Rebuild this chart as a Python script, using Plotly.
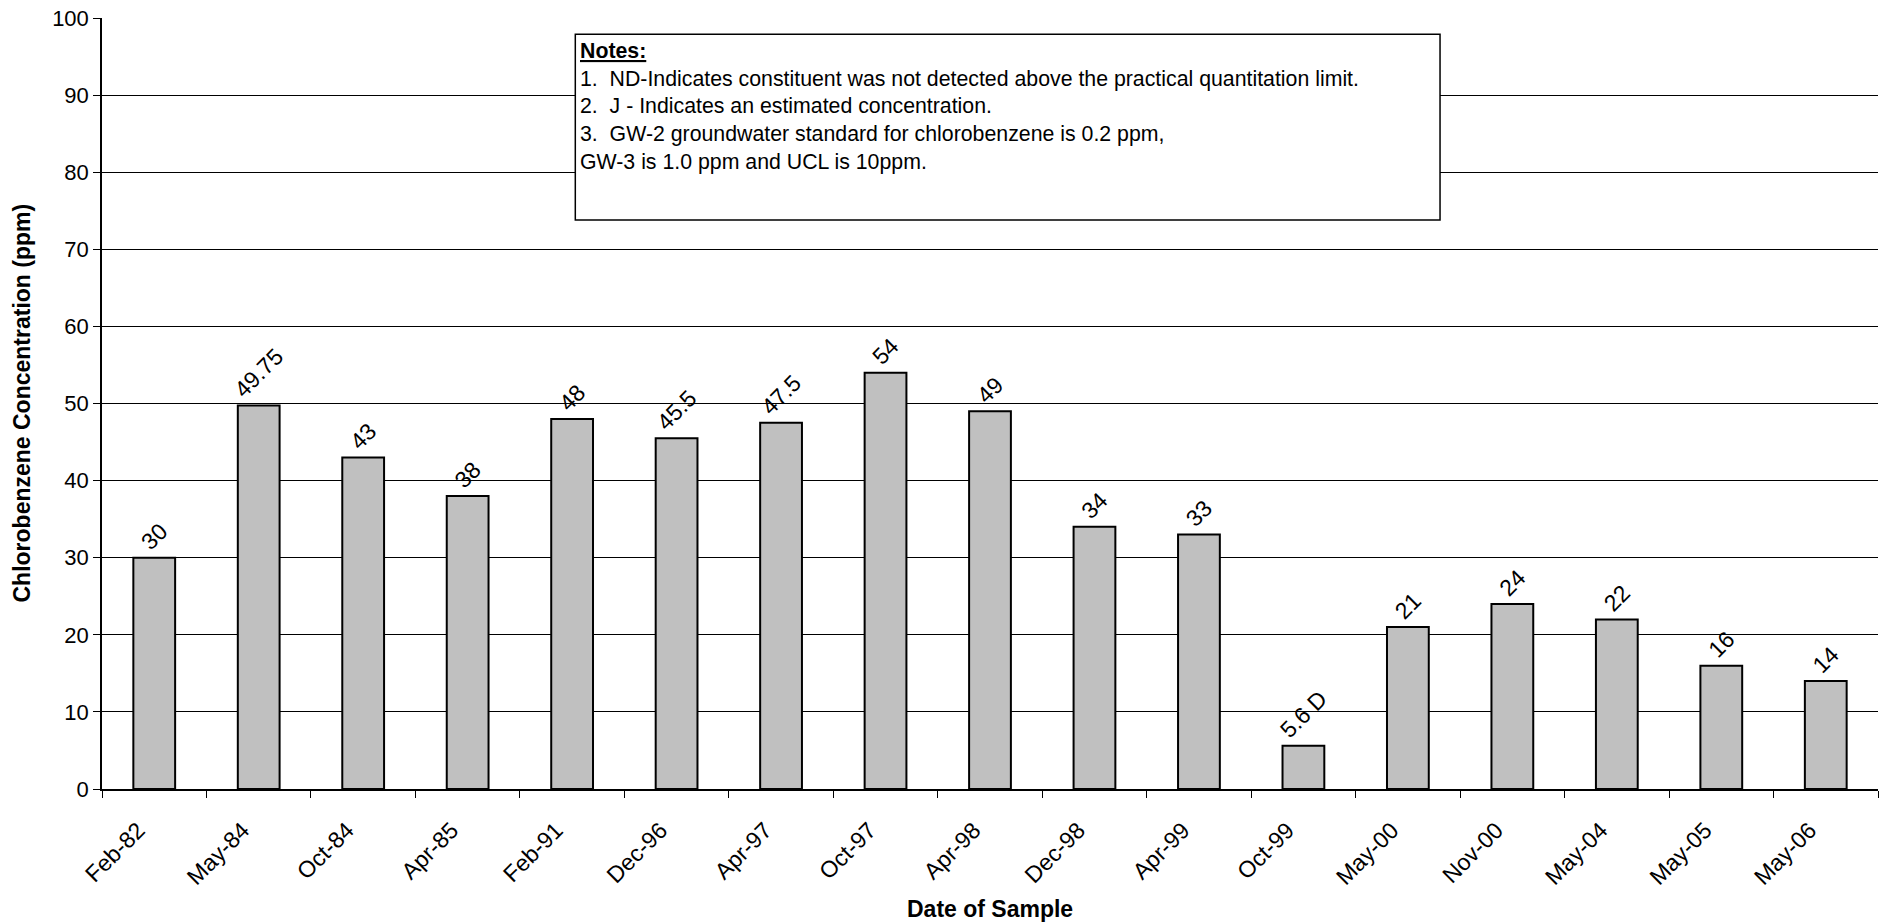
import plotly.graph_objects as go

categories = ["Feb-82", "May-84", "Oct-84", "Apr-85", "Feb-91", "Dec-96", "Apr-97", "Oct-97",
              "Apr-98", "Dec-98", "Apr-99", "Oct-99", "May-00", "Nov-00", "May-04", "May-05", "May-06"]
values = [30, 49.75, 43, 38, 48, 45.5, 47.5, 54, 49, 34, 33, 5.6, 21, 24, 22, 16, 14]
labels = ["30", "49.75", "43", "38", "48", "45.5", "47.5", "54", "49", "34", "33", "5.6 D",
          "21", "24", "22", "16", "14"]
y_ticks = [0, 10, 20, 30, 40, 50, 60, 70, 80, 90, 100]

notes_text = ("<b><u>Notes:</u></b><br>"
              "1.  ND-Indicates constituent was not detected above the practical quantitation limit.<br>"
              "2.  J - Indicates an estimated concentration.<br>"
              "3.  GW-2 groundwater standard for chlorobenzene is 0.2 ppm,<br>"
              "GW-3 is 1.0 ppm and UCL is 10ppm.")

FONT = "Liberation Sans, Arial, sans-serif"

fig = go.Figure()
fig.add_trace(go.Bar(
    x=categories, y=values, text=labels, texttemplate="%{text}",
    textposition="outside", textangle=-45, cliponaxis=False, constraintext="none",
    textfont=dict(family=FONT, size=23, color="black"),
    marker=dict(color="#C0C0C0", line=dict(color="black", width=2)),
    showlegend=False,
))

fig.update_layout(
    width=1885, height=924,
    margin=dict(l=102, r=7, t=18, b=135),
    paper_bgcolor="white", plot_bgcolor="white",
    bargap=0.6,
    font=dict(family=FONT, size=22, color="black"),
    xaxis=dict(
        type="category", tickangle=-45, tickson="boundaries", automargin=False,
        ticks="outside", ticklen=7, tickcolor="black", tickwidth=1,
        ticklabelstandoff=17, ticklabelshift=-16,
        showline=True, linecolor="black", linewidth=1.5,
        showgrid=False, tickfont=dict(family=FONT, size=23),
    ),
    yaxis=dict(
        range=[0, 100], tickvals=y_ticks, ticks="outside", ticklen=7, automargin=False,
        tickcolor="black", showline=True, linecolor="black", linewidth=1.5,
        showgrid=True, gridcolor="black", gridwidth=1, zeroline=False,
        tickfont=dict(family=FONT, size=22),
    ),
    shapes=[dict(type="rect", xref="paper", yref="paper",
                 x0=0.2665, x1=0.7534, y0=0.738, y1=0.979,
                 line=dict(color="black", width=1.5), fillcolor="white", layer="above")],
    annotations=[
        dict(text=notes_text, xref="paper", yref="paper", x=0.268, y=0.975,
             xanchor="left", yanchor="top", align="left", showarrow=False,
             font=dict(family=FONT, size=21.3, color="black")),
        dict(text="<b>Chlorobenzene Concentration (ppm)</b>", xref="paper", yref="paper",
             x=0, y=0.5, xshift=-81, textangle=-90, showarrow=False,
             xanchor="center", yanchor="middle", font=dict(family=FONT, size=23)),
        dict(text="<b>Date of Sample</b>", xref="paper", yref="paper",
             x=0.5, y=0, yshift=-120, showarrow=False,
             xanchor="center", yanchor="middle", font=dict(family=FONT, size=23)),
    ],
)

fig.write_html("out.html", config={"displayModeBar": False},
               post_script="document.body.style.margin='0';document.body.style.padding='0';"
                           "document.body.style.overflow='hidden';")
